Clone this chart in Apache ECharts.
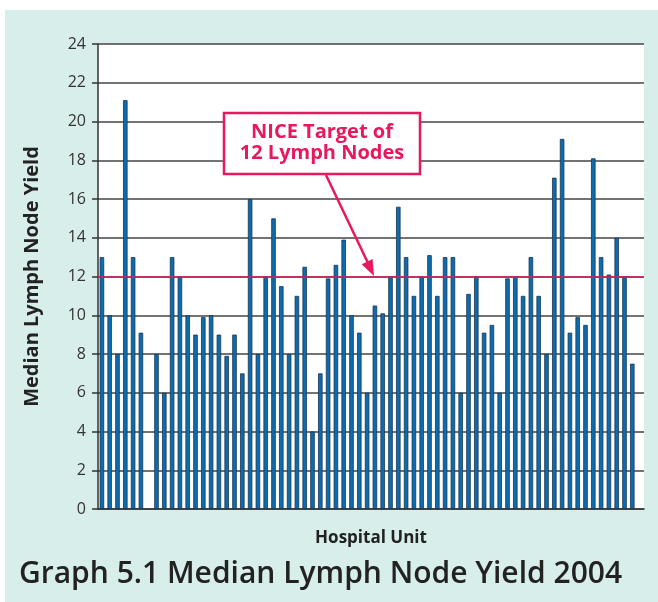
<!DOCTYPE html>
<html>
<head>
<meta charset="utf-8">
<script src="https://cdn.jsdelivr.net/npm/echarts@6/dist/echarts.min.js"></script>
<style>
  html, body { margin: 0; padding: 0; background: #fff; }
  #bg { position: absolute; left: 5px; top: 10px; width: 653px; height: 592px; background: #d8eeeb; }
  #chart { position: absolute; left: 0; top: 0; width: 658px; height: 602px; }
</style>
</head>
<body>
<div id="bg"></div>
<div id="chart"></div>
<script>
// median lymph node yield per hospital unit (unit 7 has no bar)
const yieldValues = [
  13, 10, 8, 21.1, 13, 9.1, null, 8, 6, 13,
  12, 10, 9, 9.9, 10, 9, 7.9, 9, 7, 16,
  8, 12, 15, 11.5, 8, 11, 12.5, 4, 7, 11.9,
  12.6, 13.9, 10, 9.1, 6, 10.5, 10.1, 12, 15.6, 13,
  11, 12, 13.1, 11, 13, 13, 6, 11.1, 12, 9.1,
  9.5, 6, 11.9, 12, 11, 13, 11, 8, 17.1, 19.1,
  9.1, 9.9, 9.5, 18.1, 13, 12.1, 14, 12, 7.5, null
]
const units = yieldValues.map((v, i) => 'Unit ' + (i + 1))
const niceTarget = 12
const yTicks = { min: 0, max: 24, interval: 2 }

const red = '#e5195b'
const font = '"Open Sans", "Noto Sans", sans-serif'

const chart = echarts.init(document.getElementById('chart'), null, { renderer: 'canvas' })

chart.setOption({
  animation: false,
  backgroundColor: 'transparent',
  grid: {
    left: 98,
    top: 44,
    width: 546,
    height: 465,
    show: true,
    backgroundColor: '#fff',
    borderWidth: 0
  },
  xAxis: {
    type: 'category',
    data: units,
    name: 'Hospital Unit',
    nameLocation: 'middle',
    nameGap: 21,
    nameTextStyle: { fontFamily: font, fontWeight: 'bold', fontSize: 17, color: '#222' },
    axisLine: { lineStyle: { color: '#333', width: 1.5 } },
    axisTick: { show: false },
    axisLabel: { show: false }
  },
  yAxis: {
    type: 'value',
    min: yTicks.min,
    max: yTicks.max,
    interval: yTicks.interval,
    name: 'Median Lymph Node Yield',
    nameLocation: 'middle',
    nameGap: 56,
    nameTextStyle: { fontFamily: font, fontWeight: 'bold', fontSize: 20, color: '#222' },
    axisLine: { show: true, lineStyle: { color: '#333', width: 1.5 } },
    axisTick: { show: true, length: 6, lineStyle: { color: '#333', width: 1.5 } },
    axisLabel: { fontFamily: font, fontSize: 16, color: '#333', margin: 12 },
    splitLine: { lineStyle: { color: '#444', width: 1.5 } }
  },
  series: [{
    type: 'bar',
    data: yieldValues,
    barWidth: 4.5,
    itemStyle: {
      color: '#0b6db0',
      borderColor: '#1b3550',
      borderWidth: 0.8
    },
    markLine: {
      silent: true,
      symbol: 'none',
      label: { show: false },
      lineStyle: { color: red, width: 1.5, type: 'solid' },
      data: [{ yAxis: niceTarget }]
    }
  }],
  graphic: [
    {
      type: 'rect',
      shape: { x: 224, y: 113, width: 196, height: 61 },
      style: { fill: '#fff', stroke: red, lineWidth: 2.5 },
      z: 100
    },
    {
      type: 'text',
      x: 322,
      y: 143,
      style: {
        text: 'NICE Target of\n12 Lymph Nodes',
        fill: red,
        font: 'bold 20px ' + font,
        align: 'center',
        verticalAlign: 'middle',
        lineHeight: 21
      },
      z: 101
    },
    {
      type: 'line',
      shape: { x1: 326, y1: 175, x2: 367.5, y2: 262 },
      style: { stroke: red, lineWidth: 2.5 },
      z: 100
    },
    {
      type: 'polygon',
      shape: { points: [[374, 276], [361.7, 264.2], [372.6, 259.0]] },
      style: { fill: red },
      z: 100
    },
    {
      type: 'text',
      left: 19,
      top: 559,
      style: {
        text: 'Graph 5.1 Median Lymph Node Yield 2004',
        fill: '#222',
        font: '600 30px ' + font
      }
    }
  ]
})
</script>
</body>
</html>
